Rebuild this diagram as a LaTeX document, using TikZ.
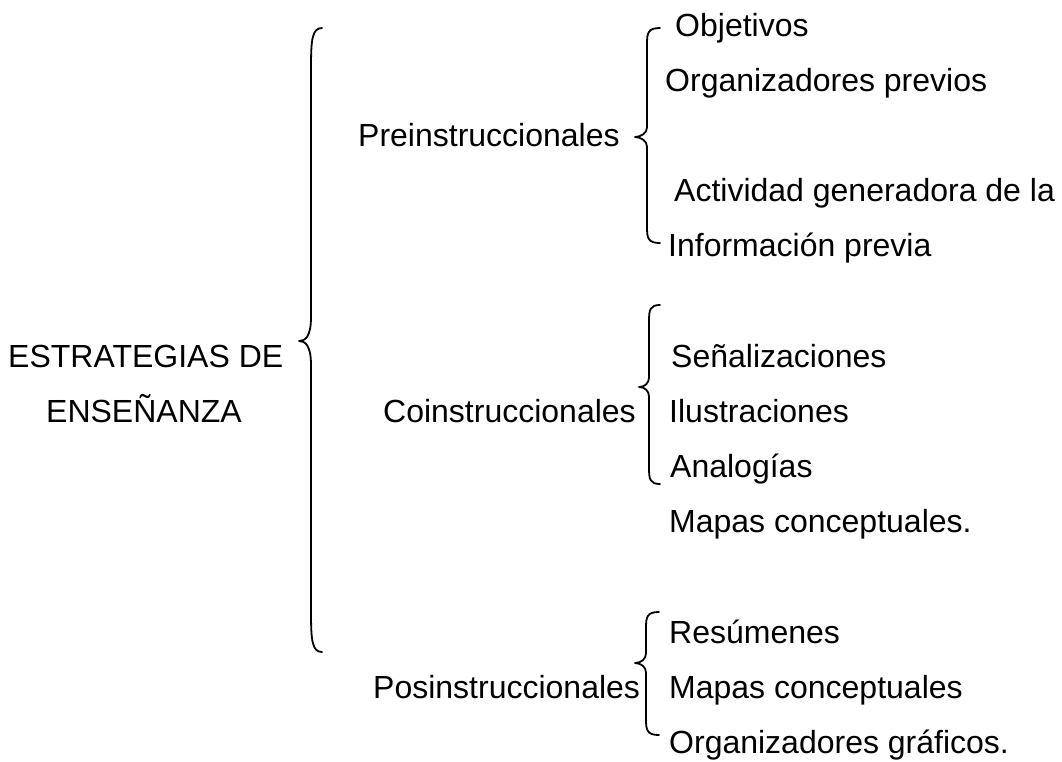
\documentclass[tikz,border=0pt]{standalone}
\usepackage{fontspec}
\setmainfont{Liberation Sans}
\newcommand\drawmybrace[7]{%
  \draw[bracestyle] (#1,#4) .. controls ({#2+1},#4) and (#2,{#4+#7*0.3}) .. (#2,{#4+#7})
    -- (#2,{#5-#7*0.6}) .. controls (#2,{#5-4}) and ({#3+6},#5) .. (#3,#5)
    .. controls ({#3+6},#5) and (#2,{#5+4}) .. (#2,{#5+#7*0.6})
    -- (#2,{#6-#7}) .. controls (#2,{#6-#7*0.3}) and ({#2+1},#6) .. (#1,#6);}
\begin{document}
\begin{tikzpicture}[x=1pt,y=-1pt,
  txt/.style={anchor=base west, inner sep=0pt, font=\fontsize{32}{38}\selectfont},
  bracestyle/.style={draw=black, line width=1.8pt, line cap=round, line join=round}]
\useasboundingbox (0,0) rectangle (1062,761);
\def\b#1{36+55.2*#1}
% main label
\node[txt] (est1) at (8,{\b{6}}) {ESTRATEGIAS DE};
\node[txt] (est2) at (46,{\b{7}}) {ENSEÑANZA};
% second level
\node[txt] (pre) at (358,{\b{2}}) {Preinstruccionales};
\node[txt] (coi) at (383,{\b{7}}) {Coinstruccionales};
\node[txt] (pos) at (373,{\b{12}}) {Posinstruccionales};
% third level
\node[txt] (p1) at (675,{\b{0}}) {Objetivos};
\node[txt] (p2) at (665,{\b{1}}) {Organizadores previos};
\node[txt] (p3) at (674,{\b{3}}) {Actividad generadora de la};
\node[txt] (p4) at (668,{\b{4}}) {Información previa};
\node[txt] (c1) at (671,{\b{6}}) {Señalizaciones};
\node[txt] (c2) at (669,{\b{7}}) {Ilustraciones};
\node[txt] (c3) at (670,{\b{8}}) {Analogías};
\node[txt] (c4) at (669,{\b{9}}) {Mapas conceptuales.};
\node[txt] (s1) at (669,{\b{11}}) {Resúmenes};
\node[txt] (s2) at (669,{\b{12}}) {Mapas conceptuales};
\node[txt] (s3) at (669,{\b{13}}) {Organizadores gráficos.};
% braces
\drawmybrace{322}{311}{299}{28}{341}{652}{40}
\drawmybrace{660}{647}{635}{28}{137}{243}{16}
\drawmybrace{660}{649}{639}{305}{387}{484}{16}
\drawmybrace{659}{646}{635}{612}{663}{735}{16}
\end{tikzpicture}
\end{document}
